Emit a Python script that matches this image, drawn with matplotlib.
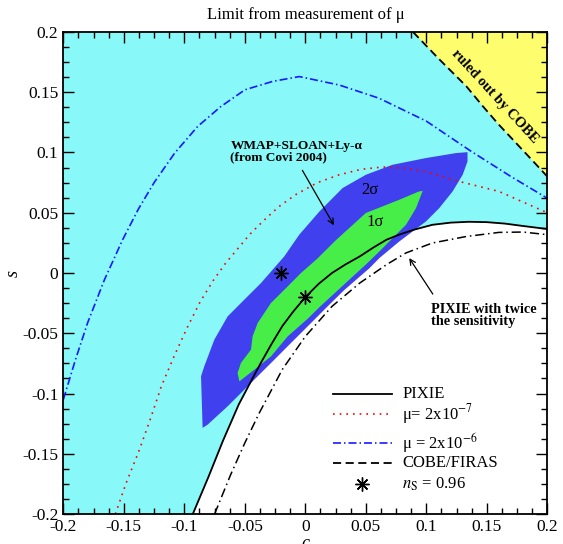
import matplotlib
matplotlib.use("Agg")
import matplotlib.pyplot as plt
from matplotlib.ticker import MultipleLocator, AutoMinorLocator, FuncFormatter
from matplotlib.lines import Line2D

plt.rcParams["font.family"] = ["Liberation Serif", "DejaVu Serif"]
plt.rcParams["mathtext.fontset"] = "stix"
plt.rcParams["axes.unicode_minus"] = False

# ---- curves (c, s) ----
pixie_c = [-0.093, -0.080, -0.068, -0.055, -0.045, -0.037, -0.028, -0.019, -0.010, 0.000,
           0.011, 0.022, 0.033, 0.045, 0.056, 0.067, 0.078, 0.090, 0.105, 0.120,
           0.135, 0.150, 0.165, 0.180, 0.200]
pixie_s = [-0.200, -0.169, -0.139, -0.109, -0.090, -0.075, -0.059, -0.044, -0.032, -0.020,
           -0.009, 0.000, 0.007, 0.0138, 0.021, 0.0276, 0.032, 0.036, 0.040, 0.0418,
           0.0425, 0.0422, 0.041, 0.039, 0.0365]

pixie2_c = [-0.075, -0.062, -0.050, -0.038, -0.019, 0.000, 0.022, 0.045, 0.067, 0.083,
            0.105, 0.133, 0.160, 0.180, 0.200]
pixie2_s = [-0.200, -0.168, -0.141, -0.116, -0.080, -0.0526, -0.0277, -0.0083, 0.0069, 0.0166,
            0.0249, 0.0303, 0.0337, 0.034, 0.0318]

mu7_c = [-0.157, -0.148, -0.138, -0.128, -0.119, -0.108, -0.097, -0.087, -0.076, -0.066,
         -0.056, -0.046, -0.035, -0.022, -0.008, 0.010, 0.028, 0.046, 0.064, 0.082,
         0.100, 0.127, 0.160, 0.200]
mu7_s = [-0.200, -0.174, -0.149, -0.121, -0.094, -0.068, -0.044, -0.024, -0.006, 0.008,
         0.020, 0.032, 0.043, 0.055, 0.065, 0.075, 0.0815, 0.086, 0.088, 0.087,
         0.084, 0.076, 0.0677, 0.050]

mu6_c = [-0.200, -0.190, -0.180, -0.166, -0.151, -0.138, -0.125, -0.108, -0.089, -0.070,
         -0.050, -0.027, -0.005, 0.028, 0.061, 0.100, 0.137, 0.170, 0.200]
mu6_s = [-0.105, -0.072, -0.0415, -0.0055, 0.0276, 0.053, 0.075, 0.0995, 0.1216, 0.138,
         0.152, 0.159, 0.163, 0.156, 0.145, 0.126, 0.101, 0.080, 0.062]

cobe_c = [0.089, 0.110, 0.133, 0.147, 0.160, 0.174, 0.188, 0.200]
cobe_s = [0.200, 0.178, 0.155, 0.138, 0.123, 0.108, 0.093, 0.080]

# WMAP+SLOAN+Ly-a contours
sig2_c = [-0.0849, -0.0862, -0.0835, -0.0752, -0.0642, -0.0504, -0.0366, -0.0174, -0.005, 0.0116,
          0.0308, 0.050, 0.072, 0.0997, 0.1245, 0.134, 0.134, 0.130, 0.1217, 0.1107,
          0.0997, 0.0777, 0.0612, 0.053, 0.0322, 0.0184, 0.0047, -0.0091, -0.0256, -0.0394,
          -0.0504, -0.0642, -0.0807]
sig2_s = [-0.1285, -0.0857, -0.0774, -0.0553, -0.036, -0.0221, -0.0083, 0.0138, 0.0318, 0.051,
          0.0705, 0.0815, 0.0898, 0.0954, 0.0995, 0.1003, 0.0925, 0.0815, 0.0677, 0.0539,
          0.0428, 0.0262, 0.0124, 0.004, -0.0141, -0.0277, -0.0415, -0.0553, -0.0719, -0.0857,
          -0.0968, -0.1106, -0.1258]

sig1_c = [-0.0545, -0.056, -0.0532, -0.0449, -0.0436, -0.0394, -0.0284, -0.0146, -0.0036, 0.010,
          0.025, 0.050, 0.0777, 0.094, 0.097, 0.0915, 0.0832, 0.0722, 0.0612, 0.050,
          0.038, 0.025, 0.012, 0.0019, -0.0146, -0.0284, -0.0421]
sig1_s = [-0.0899, -0.083, -0.0746, -0.0636, -0.0526, -0.0415, -0.0249, -0.0111, 0.0, 0.012,
          0.027, 0.0498, 0.0608, 0.0677, 0.0682, 0.0539, 0.040, 0.029, 0.0179, 0.007,
          -0.004, -0.016, -0.028, -0.038, -0.0526, -0.0692, -0.0802]

ns_c = [-0.02, 0.0]
ns_s = [0.0, -0.02]

legend_labels = ["PIXIE", r"μ= 2x10$^{-7}$", r"μ = 2x10$^{-6}$", "COBE/FIRAS",
                 r"$n_{\rm S}$ = 0.96"]

CYAN = "#88f8f8"
BLUE = "#4040ee"
GREEN = "#48ee48"
YELLOW = "#fdfd6e"

fig = plt.figure(figsize=(5.63, 5.44), dpi=100)
ax = fig.add_axes([0.1125, 0.0551, 0.8597, 0.8861])
ax.set_facecolor(CYAN)
ax.set_xlim(-0.2, 0.2)
ax.set_ylim(-0.2, 0.2)

# filled regions
ax.fill_between(pixie_c, pixie_s, -0.2, color="white", lw=0, zorder=1)
ax.fill(cobe_c + [0.2], cobe_s + [0.2], color=YELLOW, lw=0, zorder=1)
ax.fill(sig2_c, sig2_s, color=BLUE, lw=0, zorder=2)
ax.fill(sig1_c, sig1_s, color=GREEN, lw=0, zorder=3)

# lines
styles = [
    dict(color="black", lw=1.3),
    dict(color="red", lw=1.2, dashes=(1, 3)),
    dict(color="#1a1aff", lw=1.2, dashes=(4.8, 1.8, 0.9, 1.8)),
    dict(color="black", lw=1.3, dashes=(4.5, 2.5)),
]
ax.plot(pixie_c, pixie_s, zorder=5, **styles[0])
ax.plot(mu7_c, mu7_s, zorder=5, **styles[1])
ax.plot(mu6_c, mu6_s, zorder=5, **styles[2])
ax.plot(cobe_c, cobe_s, zorder=5, **styles[3])
ax.plot(pixie2_c, pixie2_s, color="black", lw=1.1, dashes=(6, 2.5, 1, 2.5), zorder=5)
star = dict(ls="none", marker=(8, 2, 0), ms=10, mew=1.0, color="black")
ax.plot(ns_c, ns_s, zorder=6, **star)

# annotations
ax.text(-0.062, 0.1005, "WMAP+SLOAN+Ly-α\n(from Covi 2004)", ha="left", va="center",
        fontsize=9.6, fontweight="bold", linespacing=0.95, zorder=7)
ax.annotate("", xy=(0.0248, 0.0376), xytext=(-0.0036, 0.0872),
            arrowprops=dict(arrowstyle="->", lw=0.9, color="black"), zorder=7)
ax.text(0.053, 0.069, "2σ", ha="center", va="center", fontsize=12, zorder=7)
ax.text(0.058, 0.0425, "1σ", ha="center", va="center", fontsize=12, zorder=7)
ax.text(0.104, -0.0354, "PIXIE with twice\nthe sensitivity", ha="left", va="center",
        fontsize=10.3, fontweight="bold", linespacing=0.95, zorder=7)
ax.annotate("", xy=(0.0846, 0.0143), xytext=(0.1066, -0.0194),
            arrowprops=dict(arrowstyle="->", lw=0.9, color="black"), zorder=7)
ax.text(0.157, 0.1465, "ruled out by COBE", rotation=-47.5, rotation_mode="anchor",
        ha="center", va="center", fontsize=10.5, fontweight="bold", zorder=7)

# legend drawn by hand in axes fractions to match the reference spacing
leg_y = [0.249, 0.207, 0.147, 0.106, 0.062]
for i, lab in enumerate(legend_labels):
    y = leg_y[i]
    if i < 4:
        ax.add_line(Line2D([0.557, 0.679], [y, y], transform=ax.transAxes,
                           zorder=9, **styles[i]))
    else:
        ax.plot([0.618], [y], transform=ax.transAxes, zorder=9, **star)
    ax.text(0.70, y, lab, transform=ax.transAxes, ha="left", va="center",
            fontsize=12, zorder=9)

# axes styling
ax.xaxis.set_major_locator(MultipleLocator(0.05))
ax.yaxis.set_major_locator(MultipleLocator(0.05))
ax.xaxis.set_minor_locator(AutoMinorLocator(4))
ax.yaxis.set_minor_locator(AutoMinorLocator(4))
fmt = FuncFormatter(lambda v, p: "0" if abs(v) < 1e-9 else f"{v:g}")
ax.xaxis.set_major_formatter(fmt)
ax.yaxis.set_major_formatter(fmt)
ax.tick_params(which="both", direction="in", top=True, right=True, labelsize=12.5)
ax.tick_params(which="major", length=8, width=1)
ax.tick_params(which="minor", length=4.5, width=1)
for sp in ax.spines.values():
    sp.set_linewidth(1.3)
    sp.set_zorder(8)

ax.set_xlabel("c", fontsize=13, style="italic")
ax.xaxis.set_label_coords(0.5, -0.043)
ax.set_ylabel("s", fontsize=13, style="italic")
ax.yaxis.set_label_coords(-0.085, 0.5)
ax.set_title("Limit from measurement of μ", fontsize=12, pad=9)

fig.savefig("out.png", dpi=100)
